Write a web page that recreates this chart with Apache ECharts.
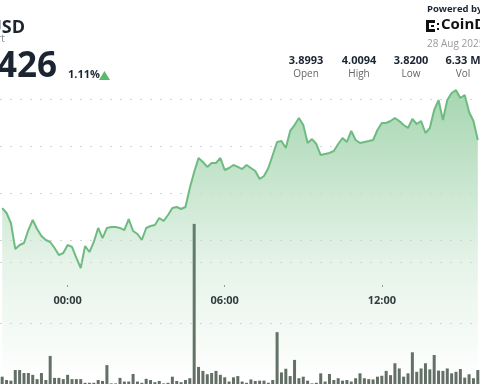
<!DOCTYPE html>
<html><head><meta charset="utf-8">
<script src="https://cdn.jsdelivr.net/npm/echarts@6/dist/echarts.min.js"></script>
<style>html,body{margin:0;padding:0;background:#fff;overflow:hidden}#c{width:480px;height:384px}</style>
</head><body><div id="c"></div>
<script>
// 10-minute slots starting 21:30 (previous day)
const categories = [];
for (let i = 0; i < 110; i++) {
  const m = (21 * 60 + 30 + i * 10) % 1440;
  categories.push(String(Math.floor(m / 60)).padStart(2, '0') + ':' + String(m % 60).padStart(2, '0'));
}
const tickLabels = ['00:00', '06:00', '12:00'];
const priceGridValues = [3.85, 3.90, 3.95, 4.00];
const volumeGridValues = [200, 400];

const prices = [
  3.8840, 3.8787, 3.8681, 3.8404, 3.8447, 3.8468, 3.8606, 3.8713, 3.8617, 3.8543,
  3.8500, 3.8479, 3.8415, 3.8340, 3.8362, 3.8447, 3.8426, 3.8309, 3.8202, 3.8436,
  3.8372, 3.8479, 3.8628, 3.8521, 3.8628, 3.8638, 3.8638, 3.8628, 3.8606, 3.8723,
  3.8596, 3.8564, 3.8500, 3.8628, 3.8649, 3.8660, 3.8734, 3.8702, 3.8766, 3.8840,
  3.8851, 3.8830, 3.8851, 3.9053, 3.9223, 3.9372, 3.9330, 3.9277, 3.9319, 3.9319,
  3.9372, 3.9245, 3.9266, 3.9298, 3.9277, 3.9255, 3.9298, 3.9266, 3.9234, 3.9149,
  3.9181, 3.9266, 3.9404, 3.9543, 3.9553, 3.9479, 3.9660, 3.9723, 3.9798, 3.9723,
  3.9532, 3.9574, 3.9521, 3.9404, 3.9415, 3.9426, 3.9447, 3.9521, 3.9585, 3.9543,
  3.9660, 3.9564, 3.9532, 3.9543, 3.9553, 3.9564, 3.9670, 3.9745, 3.9745, 3.9766,
  3.9798, 3.9766, 3.9723, 3.9691, 3.9787, 3.9734, 3.9766, 3.9638, 3.9691, 3.9883,
  3.9989, 3.9777, 3.9989, 4.0064, 4.0094, 4.0011, 4.0043, 3.9862, 3.9766, 3.9564
];

// volume in thousands
const volumes = [
  24, 13, 11, 46, 46, 36, 36, 30, 16, 36,
  13, 92, 20, 20, 16, 30, 16, 16, 16, 4,
  4, 4, 13, 10, 62, 2, 2, 20, 8, 8,
  33, 8, 4, 17, 13, 6, 10, 2, 4, 24,
  10, 6, 13, 19, 525, 56, 43, 32, 36, 43,
  30, 22, 8, 22, 26, 8, 4, 15, 10, 11,
  11, 4, 13, 170, 38, 50, 26, 79, 19, 24,
  11, 2, 4, 35, 8, 33, 13, 19, 11, 13,
  8, 19, 35, 19, 16, 15, 24, 27, 43, 29,
  68, 51, 24, 35, 104, 40, 51, 68, 48, 95,
  44, 43, 51, 35, 40, 49, 21, 32, 19, 46
];

const statValues = ['3.8993', '4.0094', '3.8200', '6.33 M'];
const statNames = ['Open', 'High', 'Low', 'Vol'];
const statX = [306, 359, 411, 463];

const chart = echarts.init(document.getElementById('c'), null, { renderer: 'canvas' });

const gridL = -1, gridR = -1.78;
const isTick = (idx, val) => tickLabels.indexOf(val !== undefined ? val : categories[idx]) >= 0;

const gridStyle = { color: '#d4d4d4', type: [2, 8], width: 1 };

const graphics = [
  { type: 'text', right: 455, top: 19, style: { text: 'DOT-USD', font: 'bold 18px "Open Sans", sans-serif', fill: '#1b2532' } },
  { type: 'text', right: 475, top: 33, style: { text: 'Chart', font: '11px "Open Sans", sans-serif', fill: '#8a8f96' } },
  { type: 'text', right: 423, top: 50, style: { text: '3.9426', font: 'bold 35px "Open Sans", sans-serif', fill: '#1b2532' } },
  { type: 'text', left: 68, top: 69, style: { text: '1.11%', font: 'bold 11px "Open Sans", sans-serif', fill: '#1b2532' } },
  { type: 'polygon', shape: { points: [[99, 80], [104.5, 71], [110, 80]] }, style: { fill: '#5bb96f' } },
  { type: 'text', left: 427, top: 4, style: { text: 'Powered by', font: 'bold 9.5px "Open Sans", sans-serif', fill: '#1b2532' } },
  { type: 'text', left: 441, top: 17, style: { text: 'CoinDesk', font: 'bold 15px "Open Sans", sans-serif', fill: '#111' } },
  { type: 'rect', shape: { x: 426, y: 20, width: 3, height: 12 }, style: { fill: '#111' } },
  { type: 'rect', shape: { x: 429, y: 20, width: 6, height: 3 }, style: { fill: '#111' } },
  { type: 'rect', shape: { x: 429, y: 29, width: 6, height: 3 }, style: { fill: '#111' } },
  { type: 'rect', shape: { x: 431, y: 25, width: 3, height: 2 }, style: { fill: '#111' } },
  { type: 'rect', shape: { x: 437, y: 23, width: 2, height: 2 }, style: { fill: '#111' } },
  { type: 'rect', shape: { x: 437, y: 28, width: 2, height: 2 }, style: { fill: '#111' } },
  { type: 'text', left: 427, top: 39, style: { text: '28 Aug 2025', font: '10px "Open Sans", sans-serif', fill: '#9a9a9a' } }
];
statValues.forEach((v, i) => {
  graphics.push({ type: 'text', x: statX[i], y: 61, style: { text: v, font: 'bold 11px "Open Sans", sans-serif', fill: '#1b2532', align: 'center', verticalAlign: 'middle' } });
  graphics.push({ type: 'text', x: statX[i], y: 74, style: { text: statNames[i], font: '10px "Open Sans", sans-serif', fill: '#666', align: 'center', verticalAlign: 'middle' } });
});

chart.setOption({
  animation: false,
  backgroundColor: '#fff',
  graphic: graphics,
  grid: [
    { left: gridL, right: gridR, top: 52, bottom: 3 },
    { left: gridL, right: gridR, top: 201, bottom: 0 },
    { left: gridL, right: gridR, top: 200, bottom: 99 }
  ],
  xAxis: [
    { type: 'category', gridIndex: 0, data: categories, boundaryGap: true, show: false },
    { type: 'category', gridIndex: 1, data: categories, boundaryGap: true, show: false },
    {
      type: 'category', gridIndex: 2, data: categories, boundaryGap: true,
      axisLine: { show: false },
      axisTick: { show: true, alignWithLabel: true, interval: isTick, length: 2, lineStyle: { color: '#999' } },
      axisLabel: { interval: isTick, color: '#2a2f38', fontWeight: 'bold', fontSize: 11, margin: 10, fontFamily: '"Open Sans", sans-serif' },
      splitLine: { show: false }
    }
  ],
  yAxis: [
    { type: 'value', gridIndex: 0, min: 3.70, max: 4.05, interval: 0.05, show: false },
    { type: 'value', gridIndex: 1, min: 0, max: 600, interval: 200, show: false },
    { type: 'value', gridIndex: 2, show: false }
  ],
  series: [
    {
      type: 'line', xAxisIndex: 0, yAxisIndex: 0, data: prices,
      symbol: 'none', smooth: false,
      lineStyle: { color: '#6dbb80', width: 2 },
      areaStyle: {
        color: new echarts.graphic.LinearGradient(0, 0, 0, 1, [
          { offset: 0, color: 'rgba(92,180,112,0.78)' },
          { offset: 0.6, color: 'rgba(92,180,112,0.22)' },
          { offset: 1, color: 'rgba(92,180,112,0.0)' }
        ])
      },
      markLine: {
        silent: true, symbol: 'none', label: { show: false },
        lineStyle: gridStyle,
        data: priceGridValues.map(v => ({ yAxis: v }))
      }
    },
    {
      type: 'bar', xAxisIndex: 1, yAxisIndex: 1, data: volumes,
      barWidth: 3,
      itemStyle: { color: '#636f66' },
      markLine: {
        silent: true, symbol: 'none', label: { show: false },
        lineStyle: gridStyle,
        data: volumeGridValues.map(v => ({ yAxis: v }))
      }
    }
  ]
});
</script>
</body></html>
